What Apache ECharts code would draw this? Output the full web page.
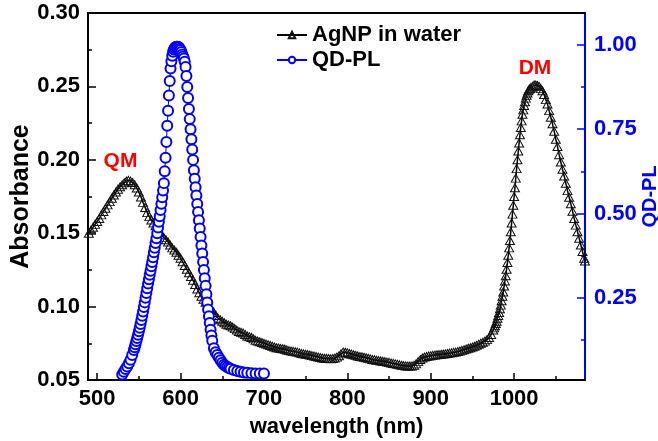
<!DOCTYPE html>
<html><head><meta charset="utf-8">
<script src="https://cdn.jsdelivr.net/npm/echarts@6/dist/echarts.min.js"></script>
<style>html,body{margin:0;padding:0;background:#fff}#c{width:658px;height:441px}</style>
</head><body><div id="c"></div>
<script>
const agWl = [490,492.5,495,497.5,500,502.5,505,507.5,510,512.5,515,517.5,520,522.5,525,527.5,530,532.5,535,537.5,540,542.5,545,547.5,550,552.5,555,557.5,560,562.5,565,567.5,570,572.5,575,577.5,580,582.5,585,587.5,590,592.5,595,597.5,600,602.5,605,607.5,610,612.5,615,617.5,620,622.5,625,627.5,630,632.5,635,637.5,640,642.5,645,647.5,650,652.5,655,657.5,660,662.5,665,667.5,670,672.5,675,677.5,680,682.5,685,687.5,690,692.5,695,697.5,700,702.5,705,707.5,710,712.5,715,717.5,720,722.5,725,727.5,730,732.5,735,737.5,740,742.5,745,747.5,750,752.5,755,757.5,760,762.5,765,767.5,770,772.5,775,777.5,780,782.5,785,787.5,790,792.5,795,797.5,800,802.5,805,807.5,810,812.5,815,817.5,820,822.5,825,827.5,830,832.5,835,837.5,840,842.5,845,847.5,850,852.5,855,857.5,860,862.5,865,867.5,870,872.5,875,877.5,880,882.5,885,887.5,890,892.5,895,897.5,900,902.5,905,907.5,910,912.5,915,917.5,920,922.5,925,927.5,930,932.5,935,937.5,940,942.5,945,947.5,950,952.5,955,957.5,960,962.5,965,967.5,970,972.5,975,
976,977,978,979,980,981,982,983,984,985,986,987,988,989,990,991,992,993,994,995,996,997,998,999,1000,1001,1002,1003,1004,1005,1006,1007,1008,1009,1010,1011,1012,1013,1014,1015,1016,1017,1018,1019,1020,
1022,1024,1026,1028,1030,1032,1034,1036,1038,1040,1042,1044,1046,1048,1050,1052,1054,1056,1058,1060,1062,1064,1066,1068,1070,1072,1074,1076,1078,1080,1082,1084,1085];
const agAbs = [0.150,0.152,0.154,0.156,0.158,0.160,0.1625,0.1648,0.167,0.1693,0.1715,0.1738,0.176,0.178,0.180,0.1816,0.183,0.1844,0.1855,0.186,0.1855,0.1845,0.183,0.1808,0.178,0.1746,0.171,0.1675,0.164,0.1613,0.159,0.157,0.155,0.153,0.151,0.149,0.147,0.1455,0.144,0.142,0.140,0.1385,0.137,0.135,0.133,0.1305,0.128,0.1255,0.123,0.1205,0.118,0.115,0.112,0.1095,0.107,0.105,0.103,0.101,0.099,0.0975,0.096,0.094,0.092,0.091,0.090,0.089,0.088,0.0875,0.087,0.086,0.085,0.084,0.083,0.0825,0.082,0.081,0.080,0.0795,0.079,0.078,0.077,0.0765,0.076,0.0755,0.075,0.0745,0.074,0.0735,0.073,0.0725,0.072,0.0718,0.0715,0.0713,0.071,0.0705,0.070,0.0698,0.0695,0.0692,0.069,0.0685,0.068,0.0678,0.0675,0.0673,0.067,0.0666,0.0663,0.066,0.0657,0.0653,0.065,0.0648,0.0647,0.0646,0.0645,0.0646,0.065,0.0656,0.0665,0.0678,0.069,0.0689,0.0685,0.068,0.0676,0.0672,0.0668,0.0664,0.066,0.0658,0.0655,0.0652,0.0648,0.0644,0.064,0.0638,0.0635,0.0632,0.063,0.0628,0.0625,0.0622,0.062,0.0616,0.0613,0.061,0.0607,0.0603,0.060,0.0598,0.0596,0.0595,0.0595,0.0596,0.060,0.061,0.0625,0.064,0.065,0.0656,0.066,0.0663,0.0665,0.0668,0.067,0.0672,0.0673,0.0675,0.0677,0.0678,0.068,0.0683,0.0685,0.0688,0.069,0.0694,0.0698,0.0702,0.0706,0.0711,0.0716,0.072,0.0725,0.073,0.0736,0.0743,0.075,0.0757,0.0765,0.0775,0.079,0.081,0.084,
0.0855,0.087,0.0885,0.090,0.092,0.094,0.096,0.0985,0.101,0.104,0.107,0.110,0.114,0.1175,0.121,0.1255,0.130,0.135,0.140,0.145,0.151,0.157,0.163,0.169,0.175,0.181,0.1875,0.194,0.200,0.206,0.2115,0.217,0.222,0.2265,0.231,0.234,0.237,0.2395,0.242,0.244,0.2455,0.247,0.248,0.2485,0.249,
0.250,0.251,0.251,0.2505,0.250,0.2485,0.247,0.2445,0.241,0.238,0.2335,0.229,0.2245,0.2195,0.214,0.209,0.2035,0.1985,0.1935,0.189,0.184,0.179,0.1745,0.170,0.165,0.160,0.1555,0.151,0.1465,0.142,0.1375,0.133,0.131];
const plWl = [530,532,534,536,538,540,542,544,545,546,547,548,549,550,551,552,553,554,555,556,557,558,559,560,561,562,563,564,565,566,567,568,569,570,571,572,573,574,575,576,577,578,579,580,581,582,583,584,585,586,587,588,589,590,591,592,593,594,595,596,597,598,599,600,601,602,603,604,605,606,607,608,609,610,611,612,613,614,615,616,617,618,619,620,621,622,623,624,625,626,627,628,629,630,631,632,633,634,635,636,637,638,640,642,644,646,648,650,652,654,656,658,660,664,668,672,676,680,685,690,695,700];
const plVal = [0.022,0.030,0.038,0.046,0.055,0.066,0.080,0.095,0.103,0.112,0.121,0.130,0.140,0.150,0.161,0.172,0.184,0.196,0.209,0.222,0.236,0.250,0.264,0.278,0.292,0.305,0.318,0.330,0.343,0.356,0.370,0.385,0.398,0.412,0.426,0.441,0.458,0.475,0.492,0.510,0.529,0.548,0.568,0.590,0.625,0.665,0.712,0.760,0.805,0.850,0.893,0.930,0.952,0.968,0.980,0.987,0.991,0.994,0.995,0.995,0.994,0.993,0.989,0.985,0.979,0.972,0.966,0.960,0.950,0.935,0.908,0.875,0.843,0.810,0.780,0.750,0.720,0.690,0.659,0.628,0.603,0.578,0.553,0.528,0.504,0.480,0.455,0.430,0.405,0.381,0.356,0.332,0.308,0.285,0.260,0.236,0.215,0.195,0.175,0.155,0.138,0.122,0.100,0.088,0.080,0.072,0.064,0.057,0.051,0.047,0.044,0.041,0.039,0.035,0.032,0.030,0.028,0.027,0.026,0.025,0.025,0.025];
const xMajorTicks = [500,600,700,800,900,1000];
const xMinorTicks = [550,650,750,850,950,1050];
const rightMajorTicks = [0.25,0.5,0.75,1.0];
const rightMinorTicks = [0.125,0.375,0.625,0.875];
const annoText = ['QM','DM'];
const annoX = [528,1025];
const annoY = [0.199,0.2625];

const FF = '"Liberation Sans", Arial, sans-serif';
const X_MIN = 489, X_MAX = 1085, R_MIN = 0.0056, R_MAX = 1.095;
const BLUE = '#0000ff';
const chart = echarts.init(document.getElementById('c'), null, {renderer:'canvas'});
const lab = (c, s) => ({fontFamily:FF, fontWeight:'bold', fontSize:s || 22, color:c});
chart.setOption({
  animation:false,
  backgroundColor:'#fff',
  grid:{left:88, right:73, top:13, bottom:61, containLabel:false, outerBoundsMode:'none'},
  legend:{
    left:276, top:24, padding:0, orient:'vertical', itemWidth:30, itemHeight:8, itemGap:3,
    textStyle:{fontFamily:FF, fontWeight:'bold', fontSize:22, color:'#000'},
    data:['AgNP in water','QD-PL']
  },
  xAxis:[
    {type:'value', position:'bottom', min:X_MIN, max:X_MAX,
     name:'wavelength (nm)', nameLocation:'middle', nameGap:36, nameMoveOverlap:false, nameTextStyle:lab('#000'),
     axisLine:{show:true, lineStyle:{color:'#000', width:2}},
     axisTick:{show:true, inside:true, length:7, customValues:xMajorTicks, lineStyle:{color:'#000', width:1.5}},
     axisLabel:{customValues:xMajorTicks, margin:8, formatter:v=>String(v), ...lab('#000')},
     splitLine:{show:false}},
    {type:'value', position:'bottom', min:X_MIN, max:X_MAX,
     axisLine:{show:false},
     axisTick:{show:true, inside:true, length:4, customValues:xMinorTicks, lineStyle:{color:'#000', width:1.5}},
     axisLabel:{show:false}, splitLine:{show:false}},
    {type:'value', position:'top', min:X_MIN, max:X_MAX,
     axisLine:{show:true, lineStyle:{color:'#000', width:2}},
     axisTick:{show:false}, axisLabel:{show:false}, splitLine:{show:false}}
  ],
  yAxis:[
    {type:'value', position:'left', min:0.05, max:0.30, interval:0.05,
     name:'Absorbance', nameLocation:'middle', nameGap:54, nameMoveOverlap:false, nameTextStyle:lab('#000', 25),
     axisLine:{show:true, lineStyle:{color:'#000', width:2}},
     axisTick:{show:true, inside:true, length:8, lineStyle:{color:'#000', width:1.5}},
     minorTick:{show:true, splitNumber:2, length:4, lineStyle:{color:'#000', width:1.5}},
     axisLabel:{formatter:v=>v.toFixed(2), margin:8, ...lab('#000')},
     splitLine:{show:false}},
    {type:'value', position:'right', min:R_MIN, max:R_MAX,
     name:'QD-PL', nameLocation:'middle', nameGap:55, nameMoveOverlap:false, nameTextStyle:lab(BLUE, 20),
     axisLine:{show:true, lineStyle:{color:BLUE, width:2}},
     axisTick:{show:true, inside:true, length:8, customValues:rightMajorTicks, lineStyle:{color:BLUE, width:1.5}},
     axisLabel:{customValues:rightMajorTicks, formatter:v=>v.toFixed(2), margin:9, ...lab(BLUE)},
     splitLine:{show:false}},
    {type:'value', position:'right', min:R_MIN, max:R_MAX,
     axisLine:{show:false},
     axisTick:{show:true, inside:true, length:4, customValues:rightMinorTicks, lineStyle:{color:BLUE, width:1.5}},
     axisLabel:{show:false}, splitLine:{show:false}}
  ],
  series:[
    {name:'AgNP in water', type:'line', xAxisIndex:0, yAxisIndex:0,
     data:agWl.map((x,i)=>[x, agAbs[i]]),
     symbol:'triangle', symbolSize:[9,8], showAllSymbol:true,
     lineStyle:{color:'#000', width:1.5},
     itemStyle:{color:'rgba(255,255,255,0)', borderColor:'#111', borderWidth:1},
     markPoint:{
       symbol:'rect', symbolSize:1, itemStyle:{color:'rgba(0,0,0,0)'},
       label:{show:true, position:'inside', color:'#ff0000', fontFamily:FF, fontWeight:'bold', fontSize:21, formatter:p=>p.name},
       data:annoText.map((t,i)=>({name:t, coord:[annoX[i], annoY[i]]}))
     }},
    {name:'QD-PL', type:'line', xAxisIndex:0, yAxisIndex:1,
     data:plWl.map((x,i)=>[x, plVal[i]]),
     symbol:'circle', symbolSize:10, showAllSymbol:true,
     lineStyle:{color:BLUE, width:1},
     itemStyle:{color:'#fff', borderColor:BLUE, borderWidth:2}}
  ]
});
</script></body></html>
